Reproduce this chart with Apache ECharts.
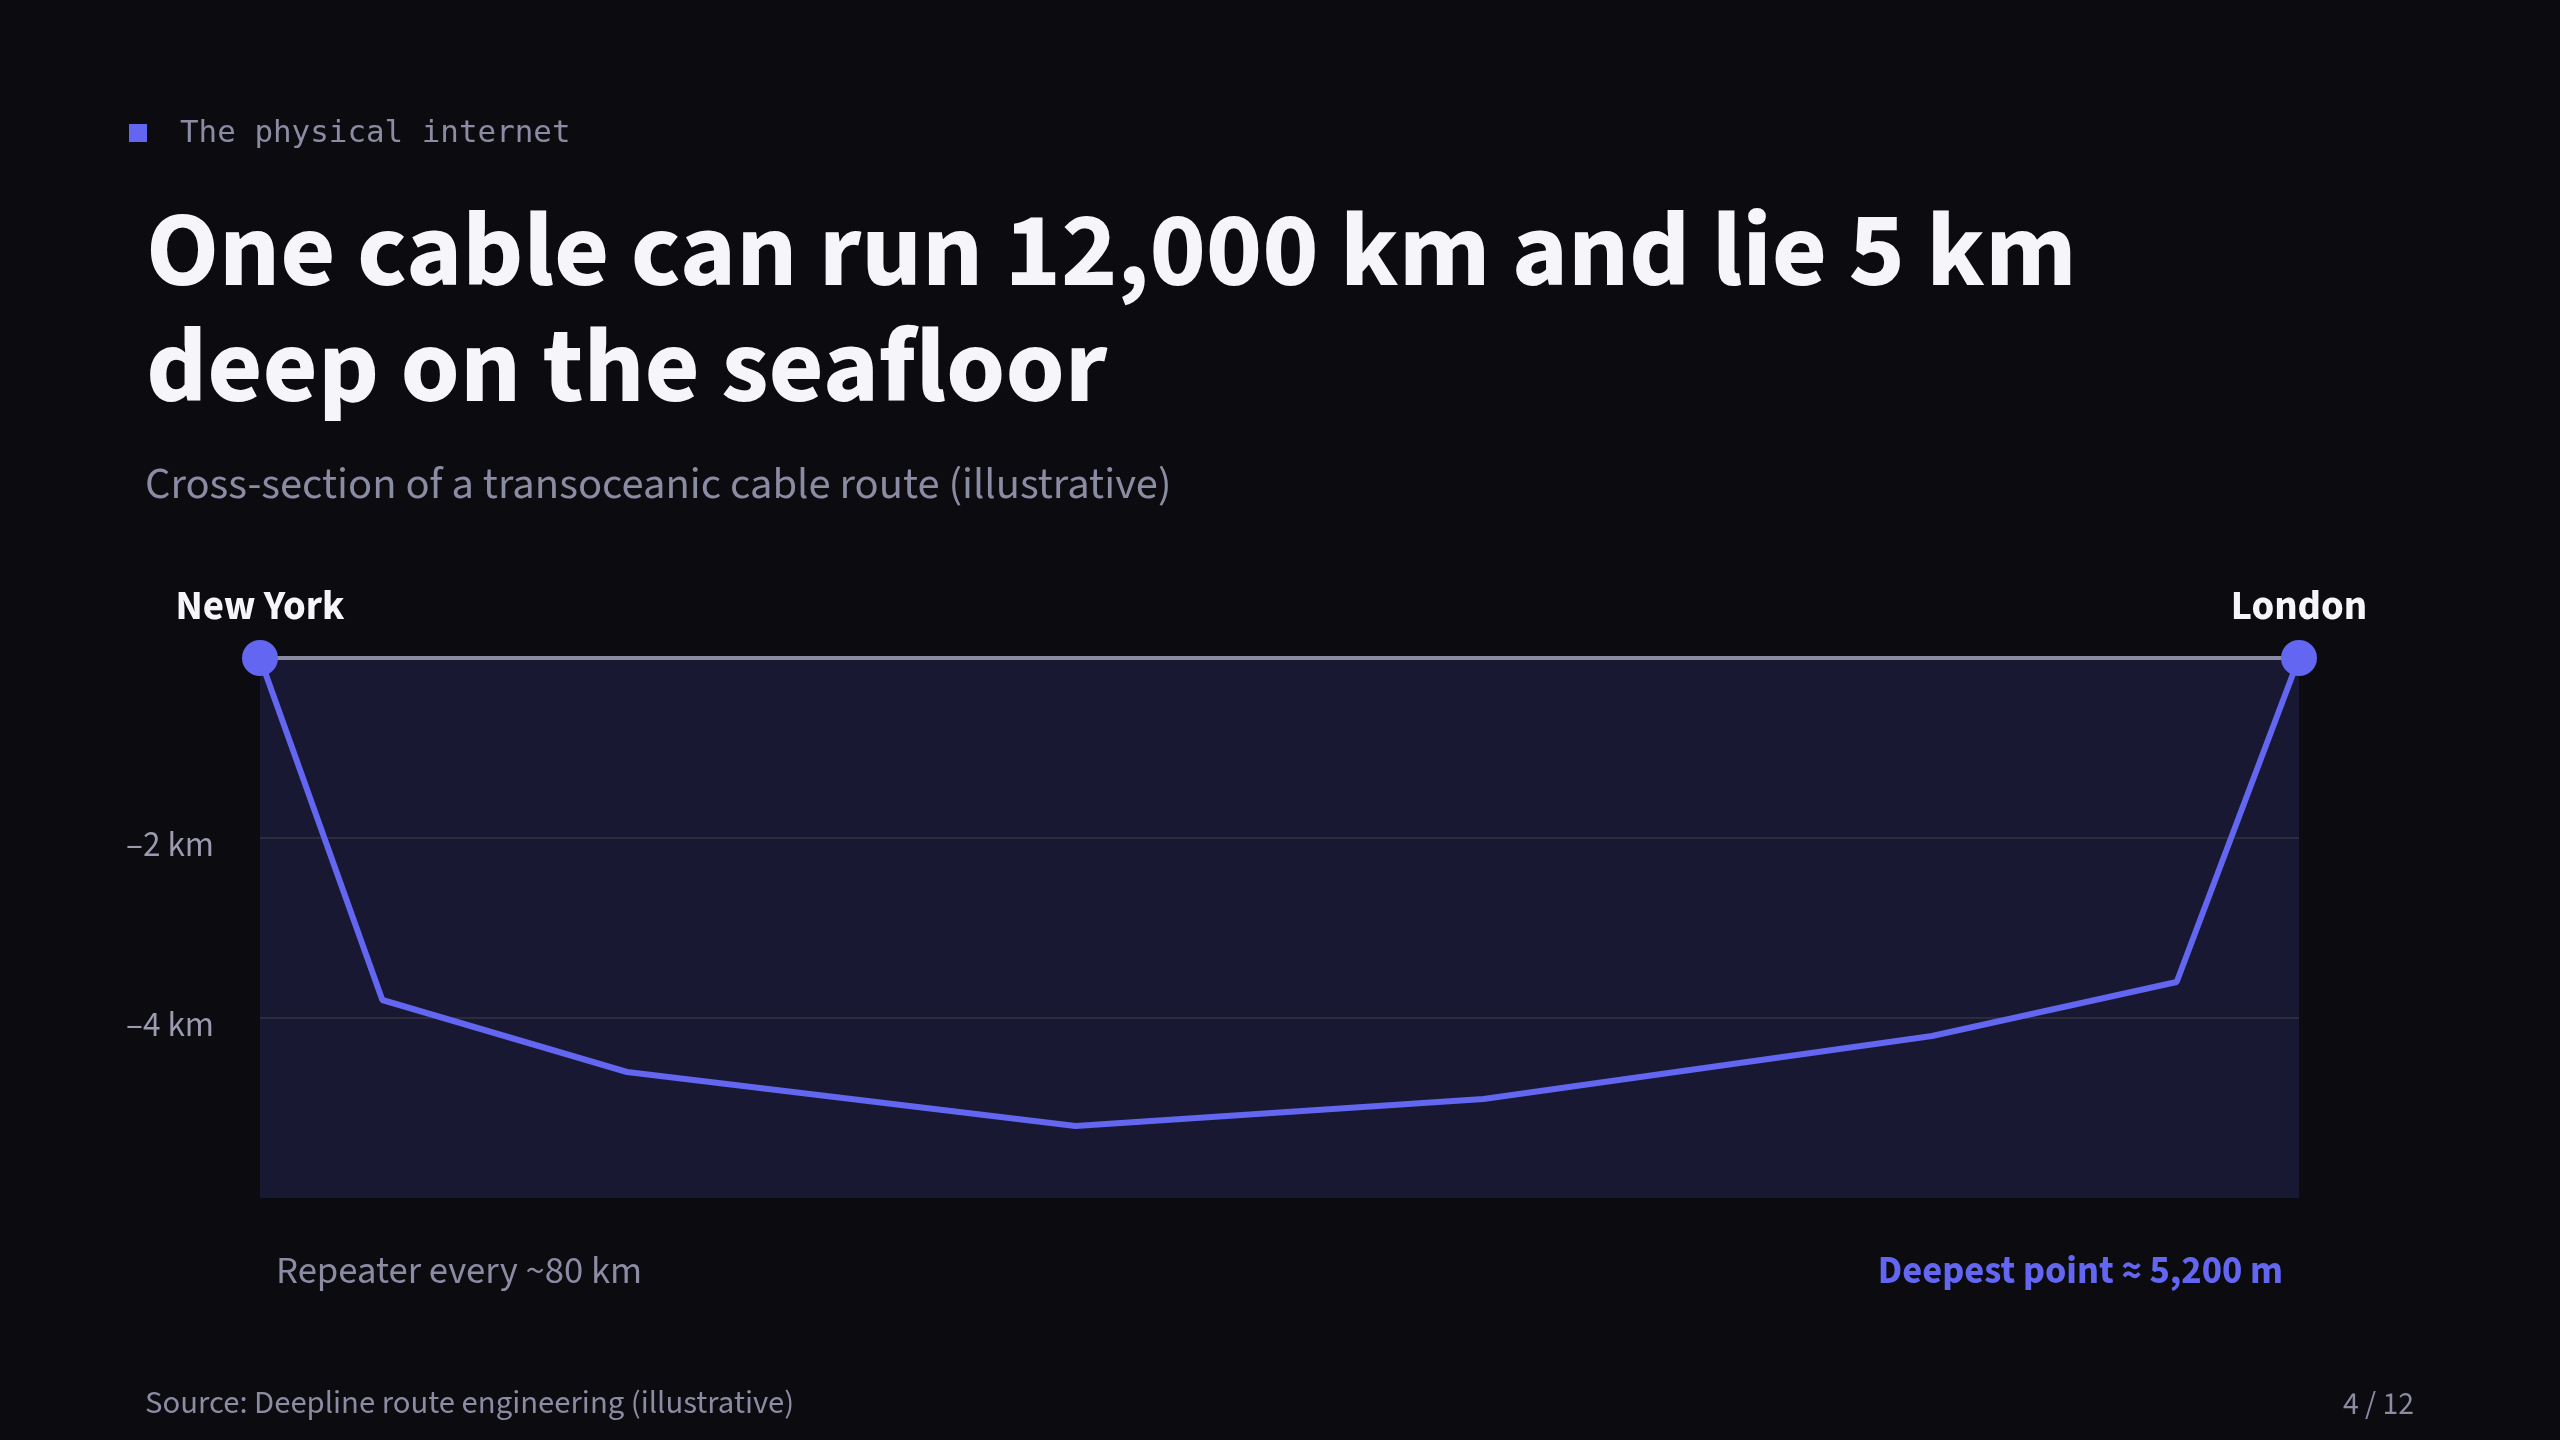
<!DOCTYPE html>
<html>
<head>
<meta charset="utf-8">
<script src="https://cdn.jsdelivr.net/npm/echarts@6/dist/echarts.min.js"></script>
<style>
  html, body { margin: 0; padding: 0; background: #0b0b10; }
  #chart { width: 2560px; height: 1440px; }
</style>
</head>
<body>
<div id="chart"></div>
<script>
// ---- data ----
const routePositions = [0, 6, 18, 40, 60, 82, 94, 100];        // % along the route
const depthsKm       = [0, -3.8, -4.6, -5.2, -4.9, -4.2, -3.6, 0];
const endpointNames  = ['New York', 'London'];
const yTickValues    = [-2, -4];
const yTickLabels    = ['\u20132 km', '\u20134 km'];

const eyebrow  = 'The physical internet';
const titleL1  = 'One cable can run 12,000 km and lie 5 km';
const titleL2  = 'deep on the seafloor';
const subtitle = 'Cross-section of a transoceanic cable route (illustrative)';
const noteLeft = 'Repeater every ~80 km';
const noteRight = 'Deepest point \u2248 5,200 m';
const source   = 'Source: Deepline route engineering (illustrative)';
const pageNum  = '4 / 12';

// ---- styling helpers ----
const SANS = '"Source Sans 3", "Source Sans Pro", Lato, "Noto Sans", sans-serif';
const MONO = '"DejaVu Sans Mono", "Liberation Mono", monospace';
const cv = document.createElement('canvas').getContext('2d');
function fit(text, weight, family, target) {
  cv.font = weight + ' 100px ' + family;
  return Math.round(100 * target / cv.measureText(text).width * 10) / 10;
}
const fsTitle = fit(titleL1, 'bold', SANS, 1930);
const fsSub = fit(subtitle, 'normal', SANS, 1026);
const fsSrc = fit(source, 'normal', SANS, 650);
const fsCity = fit('New York', 'bold', SANS, 169);
const fsNoteL = fit(noteLeft, 'normal', SANS, 366);
const fsNoteR = fit(noteRight, 'bold', SANS, 405);
const fsAxis = fit(yTickLabels[0], 'normal', SANS, 88);
const fsPage = fit(pageNum, 'normal', SANS, 71);
const fsEye = fit(eyebrow, 'normal', MONO, 391);

const INDIGO = '#6366f1';
const MUTED = '#8b8ba3';

const chart = echarts.init(document.getElementById('chart'));
const seriesData = routePositions.map((x, i) => {
  const isEnd = i === 0 || i === routePositions.length - 1;
  const item = { value: [x, depthsKm[i]], symbolSize: isEnd ? 36 : 0 };
  if (isEnd) {
    item.label = {
      show: true,
      position: 'top',
      distance: 9,
      formatter: i === 0 ? endpointNames[0] : endpointNames[1],
      color: '#f5f5fa',
      fontFamily: SANS,
      fontWeight: 'bold',
      fontSize: fsCity
    };
  }
  return item;
});

chart.setOption({
  backgroundColor: '#0b0b10',
  animation: false,
  grid: {
    left: 260, right: 261, top: 658, bottom: 242,
    show: true, backgroundColor: '#181833', borderWidth: 0
  },
  xAxis: {
    type: 'value', min: 0, max: 100, show: false
  },
  yAxis: {
    type: 'value', min: -6, max: 0, interval: 2,
    axisLine: { show: false }, axisTick: { show: false },
    axisLabel: {
      color: '#9a9ab0', fontFamily: SANS, fontSize: fsAxis, margin: 46,
      formatter: v => {
        const k = yTickValues.indexOf(v);
        return k >= 0 ? '{t|' + yTickLabels[k] + '}' : '';
      },
      rich: {
        t: { color: '#9a9ab0', fontFamily: SANS, fontSize: fsAxis, padding: [20, 0, 0, 0] }
      }
    },
    splitLine: {
      show: true, showMinLine: false, showMaxLine: false,
      lineStyle: { color: '#2c2c3c', width: 2 }
    }
  },
  series: [{
    type: 'line',
    data: seriesData,
    symbol: 'circle',
    showAllSymbol: true,
    itemStyle: { color: INDIGO },
    lineStyle: { color: INDIGO, width: 6 },
    z: 5,
    markLine: {
      silent: true, symbol: 'none', z: 2,
      label: { show: false },
      lineStyle: { color: '#8a8aa0', width: 4, type: 'solid' },
      data: [{ yAxis: 0 }]
    }
  }],
  graphic: [
    { type: 'rect', shape: { x: 129, y: 124, width: 18, height: 18 }, style: { fill: INDIGO } },
    { type: 'text', x: 180, y: 134, style: { text: eyebrow, font: 'normal ' + fsEye + 'px ' + MONO, fill: MUTED, verticalAlign: 'middle' } },
    { type: 'text', x: 146, y: 300 - fsTitle * 0.36, style: { text: titleL1, font: 'bold ' + fsTitle + 'px ' + SANS, fill: '#f5f5fa', verticalAlign: 'middle' } },
    { type: 'text', x: 146, y: 416 - fsTitle * 0.36, style: { text: titleL2, font: 'bold ' + fsTitle + 'px ' + SANS, fill: '#f5f5fa', verticalAlign: 'middle' } },
    { type: 'text', x: 145, y: 504 - fsSub * 0.36, style: { text: subtitle, font: 'normal ' + fsSub + 'px ' + SANS, fill: MUTED, verticalAlign: 'middle' } },
    { type: 'text', x: 276, y: 1275, style: { text: noteLeft, font: 'normal ' + fsNoteL + 'px ' + SANS, fill: MUTED, verticalAlign: 'middle' } },
    { type: 'text', x: 2283, y: 1275, style: { text: noteRight, font: 'bold ' + fsNoteR + 'px ' + SANS, fill: INDIGO, verticalAlign: 'middle', align: 'right' } },
    { type: 'text', x: 145, y: 1418 - fsSrc * 0.36, style: { text: source, font: 'normal ' + fsSrc + 'px ' + SANS, fill: MUTED, verticalAlign: 'middle' } },
    { type: 'text', x: 2414, y: 1418 - fsPage * 0.36, style: { text: pageNum, font: 'normal ' + fsPage + 'px ' + SANS, fill: MUTED, verticalAlign: 'middle', align: 'right' } }
  ]
});
</script>
</body>
</html>
